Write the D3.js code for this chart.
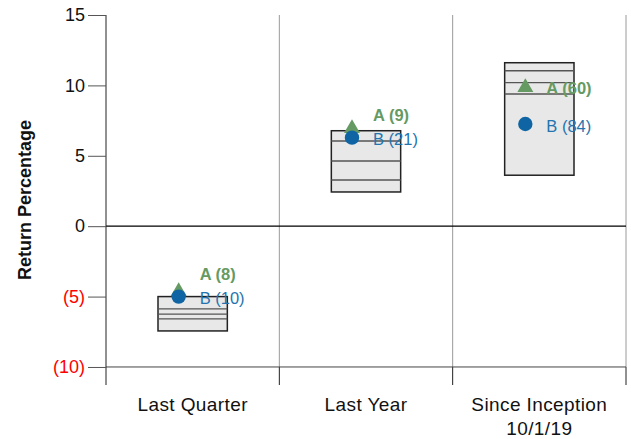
<!DOCTYPE html>
<html><head><meta charset="utf-8">
<script src="https://cdn.jsdelivr.net/npm/d3@7"></script>
<style>body{margin:0;background:#fff}svg{display:block}text{font-family:"Liberation Sans",Arial,sans-serif}</style>
</head><body><div id="c"></div>
<script>
const categories = ["Last Quarter", "Last Year", "Since Inception\n10/1/19"];
// box: [low, p25, median, p75, high]
const boxLow  = [-7.44, 2.43, 3.62];
const boxQ1   = [-6.59, 3.28, 9.39];
const boxMed  = [-6.24, 4.63, 10.19];
const boxQ3   = [-5.88, 6.05, 11.04];
const boxHigh = [-5.0, 6.78, 11.61];
const seriesA = [-4.64, 6.95, 9.86];
const seriesB = [-5.0, 6.29, 7.26];
const rankA = [8, 9, 60];
const rankB = [10, 21, 84];
const yTicks = [15, 10, 5, 0, -5, -10];

const W = 631, H = 439;
const svg = d3.select("#c").append("svg").attr("width", W).attr("height", H);
const x = d3.scaleBand().domain(categories).range([106, 626]).padding(0);
const y = d3.scaleLinear().domain([-11.28, 15]).range([385, 15]);
const green = "#659a62", blue = "#0f65a3", blueText = "#2474b0";

// vertical grid lines (category boundaries)
const bounds = categories.map(c => x(c) + x.bandwidth());
svg.selectAll(".vg").data(bounds).enter().append("line")
  .attr("x1", d => d).attr("x2", d => d).attr("y1", y(15)).attr("y2", y(-10))
  .attr("stroke", "#9a9a9a").attr("stroke-width", 1);
// category ticks below -10
svg.selectAll(".ct").data(bounds).enter().append("line")
  .attr("x1", d => d).attr("x2", d => d).attr("y1", y(-10)).attr("y2", y.range()[0])
  .attr("stroke", "#222").attr("stroke-width", 1);

// horizontal lines at -10 and 0
svg.append("line").attr("x1", 106).attr("x2", 626).attr("y1", y(-10)).attr("y2", y(-10))
  .attr("stroke", "#444").attr("stroke-width", 1);
svg.append("line").attr("x1", 106).attr("x2", 626).attr("y1", y(0)).attr("y2", y(0))
  .attr("stroke", "#000").attr("stroke-width", 1.2);

// y axis
const yAxis = d3.axisLeft(y).tickValues(yTicks).tickSize(18).tickPadding(3)
  .tickFormat(d => d < 0 ? "(" + Math.abs(d) + ")" : d);
const ga = svg.append("g").attr("transform", "translate(106,0)").call(yAxis);
ga.select(".domain").attr("d", `M0,${y(15)}V${y.range()[0]}`).attr("stroke", "#222");
ga.selectAll(".tick line").attr("stroke", "#555");
ga.selectAll(".tick text").attr("font-size", 18).attr("font-family", '"Liberation Sans",Arial,sans-serif')
  .attr("fill", d => d < 0 ? "#ff0000" : "#111");

svg.append("text").attr("transform", `translate(31,${(y(15)+y.range()[0])/2}) rotate(-90)`)
  .attr("text-anchor", "middle").attr("font-size", 18).attr("font-weight", "bold").attr("fill", "#111")
  .text("Return Percentage");

// category labels
categories.forEach(c => {
  const lines = c.split("\n");
  const t = svg.append("text").attr("text-anchor", "middle").attr("font-size", 19)
    .attr("letter-spacing", "0.4px").attr("fill", "#111")
    .attr("x", x(c) + x.bandwidth()/2).attr("y", 410.5);
  lines.forEach((l, i) => t.append("tspan").attr("x", x(c) + x.bandwidth()/2).attr("dy", i ? 24 : 0).text(l));
});

// boxes
const bw = x.bandwidth() * 0.4;
categories.forEach((c, i) => {
  const cx = x(c) + x.bandwidth()/2;
  const g = svg.append("g");
  g.append("rect").attr("x", cx - bw/2).attr("width", bw)
    .attr("y", y(boxHigh[i])).attr("height", y(boxLow[i]) - y(boxHigh[i]))
    .attr("fill", "#e8e8e8").attr("stroke", "#222").attr("stroke-width", 1.5);
  [boxQ1[i], boxMed[i], boxQ3[i]].forEach(v => {
    g.append("line").attr("x1", cx - bw/2).attr("x2", cx + bw/2).attr("y1", y(v)).attr("y2", y(v))
      .attr("stroke", "#555").attr("stroke-width", 1.3);
  });
});

// points and labels
const off = -14;
categories.forEach((c, i) => {
  const px = x(c) + x.bandwidth()/2 + off;
  svg.append("path").attr("d", d3.symbol(d3.symbolTriangle, 110)())
    .attr("transform", `translate(${px},${y(seriesA[i])})`).attr("fill", green);
  svg.append("circle").attr("cx", px).attr("cy", y(seriesB[i])).attr("r", 7.2).attr("fill", blue);
  const yB = y(seriesB[i]) + 2;
  const yA = Math.min(y(seriesA[i]) + 1, yB - 24);
  svg.append("text").attr("x", px + 21).attr("y", yA).attr("dy", "0.35em")
    .attr("font-size", 16.5).attr("font-weight", "bold").attr("fill", green)
    .text(`A (${rankA[i]})`);
  svg.append("text").attr("x", px + 21).attr("y", yB).attr("dy", "0.35em")
    .attr("font-size", 16.5).attr("fill", blueText)
    .text(`B (${rankB[i]})`);
});
</script></body></html>
